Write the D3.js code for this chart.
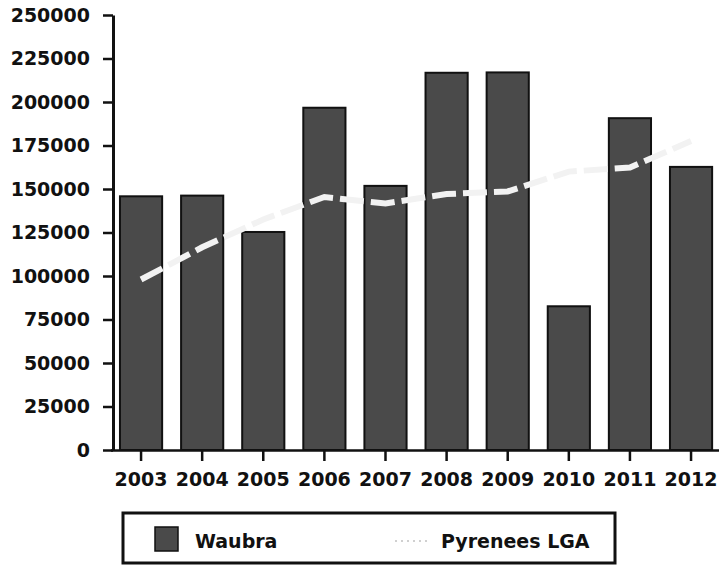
<!DOCTYPE html>
<html>
<head>
<meta charset="utf-8">
<script src="https://cdn.jsdelivr.net/npm/d3@7"></script>
<style>
  html, body { margin: 0; padding: 0; background: #fff; }
  svg text { font-family: "DejaVu Sans", sans-serif; font-weight: bold; fill: #111; }
</style>
</head>
<body>
<div id="chart"></div>
<script>
/* Waubra vs Pyrenees LGA — bar + line */

const years = ['2003', '2004', '2005', '2006', '2007', '2008', '2009', '2010', '2011', '2012'];
const waubra = [145800, 146200, 125300, 196700, 151800, 216800, 217000, 82600, 190700, 162700];
const pyrenees = [98000, 116500, 132500, 145400, 141700, 147100, 148600, 160000, 162300, 177600];
const yTicks = [0, 25000, 50000, 75000, 100000, 125000, 150000, 175000, 200000, 225000, 250000];

(function() {
    const width = 719, height = 566;
    const barFill = '#4a4a4a';

    const svg = d3.select('#chart')
        .append('svg')
        .attr('width', width)
        .attr('height', height);

    const x = d3.scaleBand()
        .domain(years)
        .range([110.5, 721.6])
        .paddingInner(0.31)
        .paddingOuter(0.155);

    const y = d3.scaleLinear()
        .domain([0, 250000])
        .range([450, 15]);

    // Bars
    svg.append('g')
        .selectAll('rect')
        .data(years)
        .enter()
        .append('rect')
        .attr('x', d => x(d))
        .attr('y', (d, i) => y(waubra[i]))
        .attr('width', x.bandwidth())
        .attr('height', (d, i) => y(0) - y(waubra[i]))
        .attr('fill', barFill)
        .attr('stroke', '#111')
        .attr('stroke-width', 2);

    // Y axis
    const yAxis = svg.append('g')
        .attr('transform', 'translate(113,0)')
        .call(d3.axisLeft(y).tickValues(yTicks).tickFormat(d3.format('d'))
            .tickSize(10).tickSizeOuter(0).tickPadding(13));
    yAxis.select('.domain').attr('stroke', '#111').attr('stroke-width', 3);
    yAxis.selectAll('.tick line').attr('stroke', '#111').attr('stroke-width', 2.5);
    yAxis.selectAll('text').attr('font-size', '19px').attr('font-family', '"DejaVu Sans", sans-serif');

    // X axis
    const xAxis = svg.append('g')
        .attr('transform', `translate(0,${y(0)})`)
        .call(d3.axisBottom(x).tickSize(11).tickSizeOuter(0).tickPadding(12));
    xAxis.select('.domain').attr('stroke', '#111').attr('stroke-width', 2.5);
    xAxis.selectAll('.tick line').attr('stroke', '#111').attr('stroke-width', 2.5);
    xAxis.selectAll('text').attr('font-size', '19px').attr('font-family', '"DejaVu Sans", sans-serif');

    // Pyrenees LGA line
    const line = d3.line()
        .x((d, i) => x(years[i]) + x.bandwidth() / 2)
        .y(d => y(d));

    svg.append('path')
        .datum(pyrenees)
        .attr('d', line)
        .attr('fill', 'none')
        .attr('stroke', '#f2f2f2')
        .attr('stroke-width', 6)
        .attr('stroke-dasharray', '24 7');

    // Legend
    const legend = svg.append('g');
    legend.append('rect')
        .attr('x', 123).attr('y', 513)
        .attr('width', 492).attr('height', 50)
        .attr('fill', 'none')
        .attr('stroke', '#111')
        .attr('stroke-width', 3);
    legend.append('rect')
        .attr('x', 155).attr('y', 527)
        .attr('width', 23).attr('height', 24)
        .attr('fill', barFill)
        .attr('stroke', '#111')
        .attr('stroke-width', 1.5);
    legend.append('text')
        .attr('x', 195).attr('y', 548)
        .attr('font-size', '19px')
        .text('Waubra');
    legend.append('line')
        .attr('x1', 395).attr('x2', 430)
        .attr('y1', 541).attr('y2', 541)
        .attr('stroke', '#d0d0d0')
        .attr('stroke-width', 2)
        .attr('stroke-dasharray', '2 4');
    legend.append('text')
        .attr('x', 441).attr('y', 548)
        .attr('font-size', '19px')
        .text('Pyrenees LGA');
})();
</script>
</body>
</html>
